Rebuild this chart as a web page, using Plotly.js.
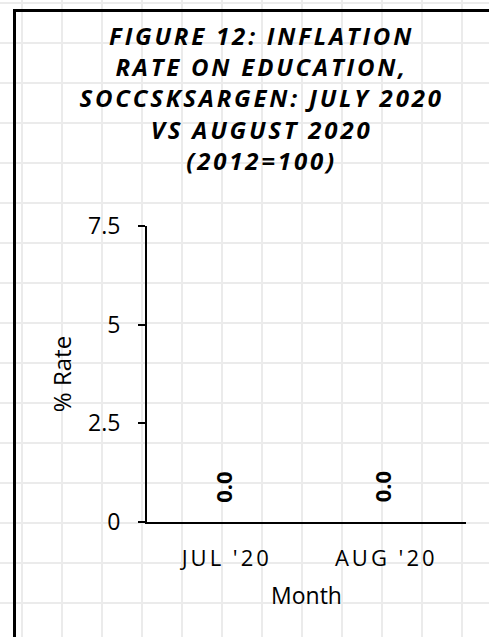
<!DOCTYPE html>
<html>
<head>
<meta charset="utf-8">
<script src="https://cdn.plot.ly/plotly-3.0.1.min.js"></script>
<style>
	html, body { margin: 0; padding: 0; }
	body {
		width: 489px; height: 637px; overflow: hidden; position: relative;
		background-color: #ffffff;
		background-image:
			linear-gradient(to right, #ebebeb 2px, transparent 2px),
			linear-gradient(to bottom, #ebebeb 2px, transparent 2px);
		background-size: 40px 40px;
		background-position: 21px 0px, 0px 2px;
	}
	#frame {
		position: absolute; left: 13px; top: 9px; width: 600px; height: 700px;
		border-left: 3px solid #000; border-top: 3px solid #000;
	}
	#myPlot { position: absolute; left: 0; top: 0; width: 489px; height: 637px; }
	#myPlot .gtitle { letter-spacing: 2.8px; }
	#myPlot .xtick text { letter-spacing: 3px; }
</style>
</head>
<body>
<div id="frame"></div>
<div id="myPlot"></div>
<script>
	// chart values
	var months = ["JUL '20", "AUG '20"];
	var rates = [0.0, 0.0];
	var rateLabels = ["0.0", "0.0"];
	var yTicks = [0, 2.5, 5, 7.5];
	var yTickText = ["0", "2.5", "5", "7.5"];
	var titleLines = [
		"FIGURE 12: INFLATION",
		"RATE ON EDUCATION,",
		"SOCCSKSARGEN: JULY 2020",
		"VS AUGUST 2020",
		"(2012=100)"
	];

	var font = "'Open Sans', 'Noto Sans', sans-serif";

	var trace1 = {
		type: "bar",
		x: months,
		y: rates,
		marker: {color: "#4472c4"},
		hoverinfo: "x+y"
	};

	// value labels sit above each (zero height) bar, rotated like the original
	var labelNotes = months.map(function(m, i){
		return {
			x: m, y: rates[i], xref: "x", yref: "y",
			text: rateLabels[i], showarrow: false,
			textangle: -90, xanchor: "center", yanchor: "middle",
			xshift: -4, yshift: 35,
			font: {family: font, size: 22, color: "#000", weight: "bold"}
		};
	});

	var layout = {
		width: 489,
		height: 637,
		paper_bgcolor: "rgba(0,0,0,0)",
		plot_bgcolor: "rgba(0,0,0,0)",
		margin: {l: 147, r: 23, t: 226, b: 115},
		showlegend: false,
		font: {family: font, color: "#000"},
		title: {
			text: titleLines.join("<br>"),
			font: {family: font, size: 24, color: "#000", weight: "bold", style: "italic"},
			xref: "container", x: 0.535, xanchor: "center",
			yref: "container", y: 0.9294, yanchor: "middle"
		},
		annotations: labelNotes,
		xaxis: {
			type: "category",
			range: [-0.5, 1.5],
			showline: true, linecolor: "#000", linewidth: 2,
			ticks: "", showgrid: false, zeroline: false,
			tickfont: {family: font, size: 22, color: "#000"},
			ticklabelstandoff: 16,
			title: {text: "Month", font: {family: font, size: 23, color: "#000"}, standoff: 16}
		},
		yaxis: {
			range: [0, 7.5],
			tickvals: yTicks, ticktext: yTickText,
			showline: true, linecolor: "#000", linewidth: 2,
			ticks: "outside", ticklen: 7, tickwidth: 2, tickcolor: "#000",
			showgrid: false, zeroline: false,
			tickfont: {family: font, size: 23, color: "#000"},
			ticklabelstandoff: 13,
			title: {text: "% Rate", font: {family: font, size: 24, color: "#000"}, standoff: 10}
		}
	};

	Plotly.newPlot("myPlot", [trace1], layout, {displayModeBar: false, staticPlot: true});
</script>
</body>
</html>
